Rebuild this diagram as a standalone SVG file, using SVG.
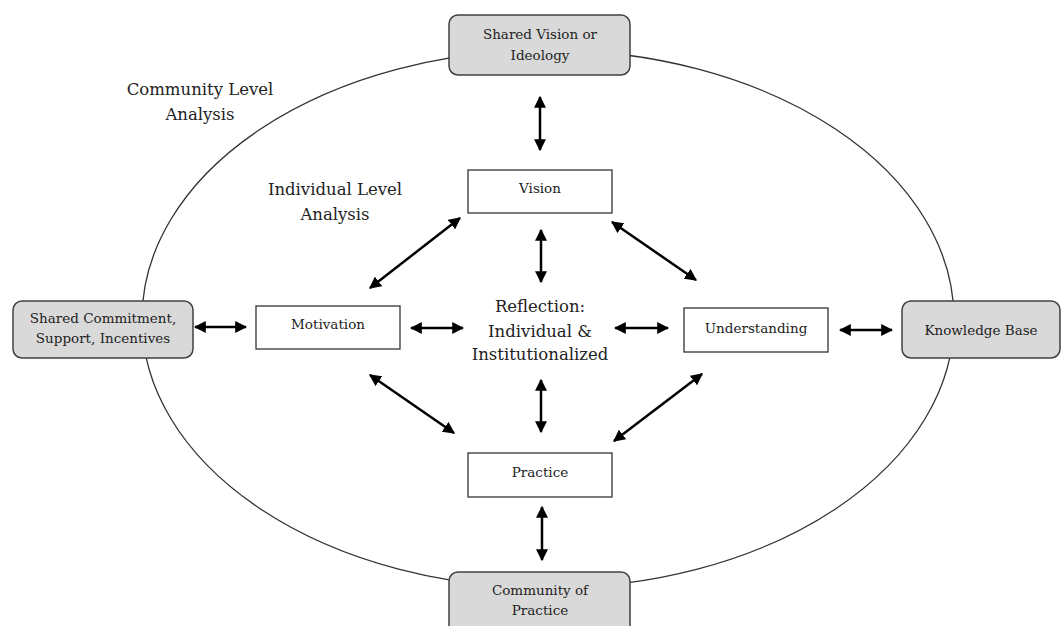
<svg xmlns="http://www.w3.org/2000/svg" width="1063" height="626" viewBox="0 0 1063 626">
<defs>
<marker id="ah" viewBox="0 0 10 10" refX="9" refY="5" markerWidth="12" markerHeight="12" markerUnits="userSpaceOnUse" orient="auto-start-reverse">
<path d="M0,0 L10,5 L0,10 z" fill="#000"/>
</marker>
<style>
.t{font-family:"DejaVu Serif","Liberation Serif",serif;fill:#222;text-anchor:middle}
.big{font-size:16.5px}
.sm{font-size:13.5px}
.grey{fill:#d9d9d9;stroke:#404040;stroke-width:1.5}
.white{fill:#fff;stroke:#333;stroke-width:1.3}
.ar{stroke:#000;stroke-width:2.5;fill:none;marker-start:url(#ah);marker-end:url(#ah)}
</style>
</defs>
<rect width="1063" height="626" fill="#fff"/>
<ellipse cx="548" cy="319" rx="406" ry="269" fill="none" stroke="#333" stroke-width="1.3"/>
<text class="t big" x="200" y="95">Community Level</text>
<text class="t big" x="200" y="120">Analysis</text>
<text class="t big" x="335" y="195">Individual Level</text>
<text class="t big" x="335" y="220">Analysis</text>
<g id="connectors">
<line class="ar" x1="540" y1="97" x2="540" y2="150"/>
<line class="ar" x1="541" y1="230" x2="541" y2="282"/>
<line class="ar" x1="541" y1="380" x2="541" y2="432"/>
<line class="ar" x1="542" y1="507" x2="542" y2="560"/>
<line class="ar" x1="195" y1="327" x2="246" y2="327"/>
<line class="ar" x1="411" y1="328" x2="463" y2="328"/>
<line class="ar" x1="615" y1="328" x2="668" y2="328"/>
<line class="ar" x1="840" y1="330" x2="892" y2="330"/>
<line class="ar" x1="370" y1="288" x2="460" y2="218"/>
<line class="ar" x1="612" y1="222" x2="696" y2="280"/>
<line class="ar" x1="370" y1="375" x2="454" y2="433"/>
<line class="ar" x1="702" y1="374" x2="614" y2="441"/>
</g>
<g id="shared-vision">
<rect class="grey" x="449" y="15" width="181" height="60" rx="9"/>
<text class="t sm" x="540" y="39">Shared Vision or</text>
<text class="t sm" x="540" y="60">Ideology</text>
</g>
<g id="shared-commitment">
<rect class="grey" x="13" y="301" width="180" height="57" rx="9"/>
<text class="t sm" x="103" y="323">Shared Commitment,</text>
<text class="t sm" x="103" y="343">Support, Incentives</text>
</g>
<g id="knowledge-base">
<rect class="grey" x="902" y="301" width="158" height="57" rx="9"/>
<text class="t sm" x="981" y="335">Knowledge Base</text>
</g>
<g id="community-of-practice">
<rect class="grey" x="449" y="572" width="181" height="62" rx="9"/>
<text class="t sm" x="540" y="595">Community of</text>
<text class="t sm" x="540" y="615">Practice</text>
</g>
<g id="vision">
<rect class="white" x="468" y="170" width="144" height="43"/>
<text class="t sm" x="540" y="193">Vision</text>
</g>
<g id="motivation">
<rect class="white" x="256" y="306" width="144" height="43"/>
<text class="t sm" x="328" y="329">Motivation</text>
</g>
<g id="understanding">
<rect class="white" x="684" y="308" width="144" height="44"/>
<text class="t sm" x="756" y="333">Understanding</text>
</g>
<g id="practice">
<rect class="white" x="468" y="453" width="144" height="44"/>
<text class="t sm" x="540" y="477">Practice</text>
</g>
<g id="reflection">
<text class="t big" x="540" y="312">Reflection:</text>
<text class="t big" x="540" y="337">Individual &amp;</text>
<text class="t big" x="540" y="360">Institutionalized</text>
</g>
</svg>
